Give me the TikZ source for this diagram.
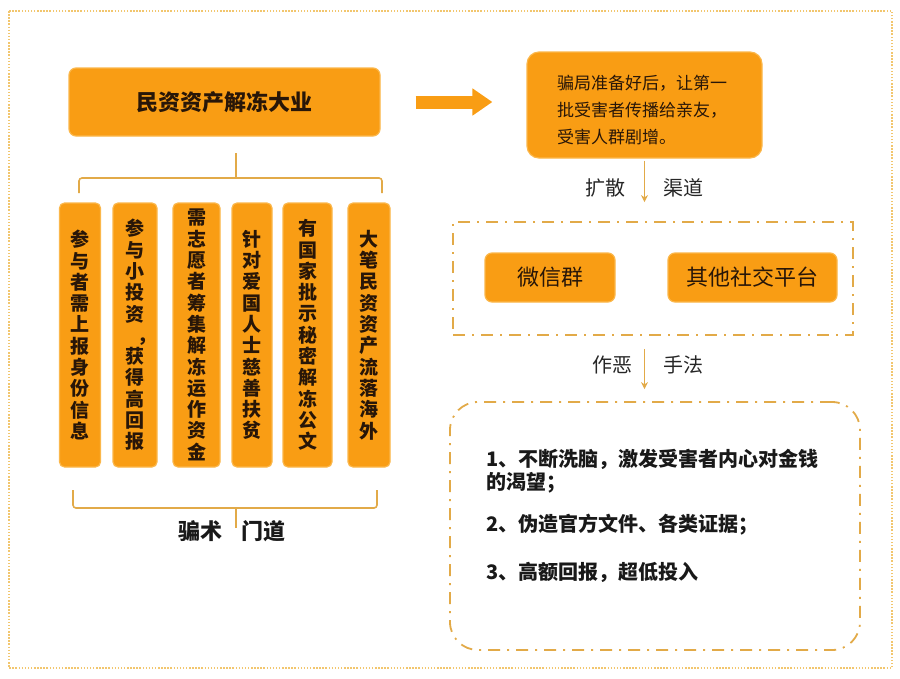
\documentclass[tikz,border=0pt]{standalone}
\usepackage{fontspec}
\setmainfont{Noto Sans CJK SC}
\usetikzlibrary{arrows.meta}

\definecolor{boxorange}{RGB}{249,157,20}
\definecolor{boxedge}{RGB}{251,183,75}
\definecolor{inktext}{RGB}{40,22,8}
\definecolor{gold}{RGB}{226,170,72}
\definecolor{dotline}{RGB}{242,198,110}

\tikzset{
  orangebox/.style={fill=boxorange, draw=boxedge, line width=1.2pt, rounded corners=7pt, text=inktext, inner sep=0pt},
  colbox/.style={orangebox, rounded corners=5pt, minimum height=264pt, align=center, font=\bfseries\fontsize{19}{21.3}\selectfont},
  brace/.style={draw=gold, line width=1.6pt, rounded corners=3pt},
  thinarrow/.style={draw=gold, line width=1.6pt, -{Stealth[length=7pt,width=7pt]}},
  fatarrow/.style={draw=boxorange, line width=13pt, -{Triangle[length=20pt,width=26pt]}},
  dashdot/.style={draw=gold, line width=1.8pt, dash pattern=on 12pt off 7pt on 2pt off 7pt, inner sep=0pt},
  tag/.style={font=\fontsize{20}{24}\selectfont, text=black!85},
  bigtag/.style={font=\bfseries\fontsize{22}{26}\selectfont, text=black!90},
  item/.style={font=\bfseries\fontsize{20}{23}\selectfont, text=black!90, align=left, anchor=west, inner sep=0pt},
}

\begin{document}
\begin{tikzpicture}[x=1pt, y=-1pt]
\useasboundingbox (0,0) rectangle (900,678);
\draw[dotline, line width=1.6pt, dash pattern=on 1.5pt off 1.6pt] (9,11) rectangle (892,668);

% left half
\node[orangebox, minimum width=311pt, minimum height=68pt, font=\bfseries\fontsize{22}{26}\selectfont] (title) at (224.5,102) {民资资产解冻大业};

\node[colbox, minimum width=41pt] (c1) at (80,335) {参\\与\\者\\需\\上\\报\\身\\份\\信\\息};
\node[colbox, minimum width=44pt] (c2) at (135,335) {参\\与\\小\\投\\资\\\hspace{24pt}，\\获\\得\\高\\回\\报};
\node[colbox, minimum width=47pt] (c3) at (196.5,335) {需\\志\\愿\\者\\筹\\集\\解\\冻\\运\\作\\资\\金};
\node[colbox, minimum width=40pt] (c4) at (252,335) {针\\对\\爱\\国\\人\\士\\慈\\善\\扶\\贫};
\node[colbox, minimum width=49pt] (c5) at (307.5,335) {有\\国\\家\\批\\示\\秘\\密\\解\\冻\\公\\文};
\node[colbox, minimum width=42pt] (c6) at (369,335) {大\\笔\\民\\资\\资\\产\\流\\落\\海\\外};

% braces
\coordinate (tb1) at (236,153);
\coordinate (tb2) at (236,178);
\coordinate (tbL) at (79,193);
\coordinate (tbR) at (382,193);
\draw[brace] (tb1) -- (tb2);
\draw[brace] (tbL) -- (tbL |- tb2) -- (tbR |- tb2) -- (tbR);

\coordinate (bb1) at (236,528);
\coordinate (bb2) at (236,508);
\coordinate (bbL) at (73,490);
\coordinate (bbR) at (377,490);
\draw[brace] (bb1) -- (bb2);
\draw[brace] (bbL) -- (bbL |- bb2) -- (bbR |- bb2) -- (bbR);
\node[bigtag] (trick) at (200,531) {骗术};
\node[bigtag] (way) at (263,531) {门道};

% right half
\node[orangebox, rounded corners=12pt, minimum width=235pt, minimum height=106pt, text width=175pt, align=left, font=\fontsize{17}{27}\selectfont] (spread) at (644.5,105) {\rule{0pt}{25pt}骗局准备好后，让第一\\批受害者传播给亲友，\\受害人群剧增。};

\path (title.east -| spread.west) coordinate (sw);
\draw[fatarrow] ([xshift=35pt]title.east) -- ([xshift=-34pt]sw);

\node[dashdot, minimum width=400pt, minimum height=113pt] (chan) at (653,278.5) {};
\node[orangebox, minimum width=130pt, minimum height=49pt, font=\fontsize{22}{26}\selectfont] (wechat) at (550,277.5) {微信群};
\node[orangebox, minimum width=169pt, minimum height=49pt, font=\fontsize{22}{26}\selectfont] (social) at (752.5,277.5) {其他社交平台};

\draw[thinarrow, shorten <=2pt, shorten >=19pt] (spread.south) -- (spread.south |- chan.north);
\node[tag] (kuo) at (605,188) {扩散};
\node[tag] (qu) at (683,188) {渠道};

\node[dashdot, rounded corners=28pt, minimum width=410pt, minimum height=248pt] (tricks) at (655,526) {};
\node[item] (m1) at (486,471.5) {1、不断洗脑，激发受害者内心对金钱\\的渴望；};
\node[item] (m2) at (486,525) {2、伪造官方文件、各类证据；};
\node[item] (m3) at (486,572) {3、高额回报，超低投入};

\draw[thinarrow, shorten <=13pt, shorten >=12pt] (spread.south |- chan.south) -- (spread.south |- tricks.north);
\node[tag] (zuo) at (612,365) {作恶};
\node[tag] (shou) at (683,365) {手法};
\end{tikzpicture}
\end{document}
